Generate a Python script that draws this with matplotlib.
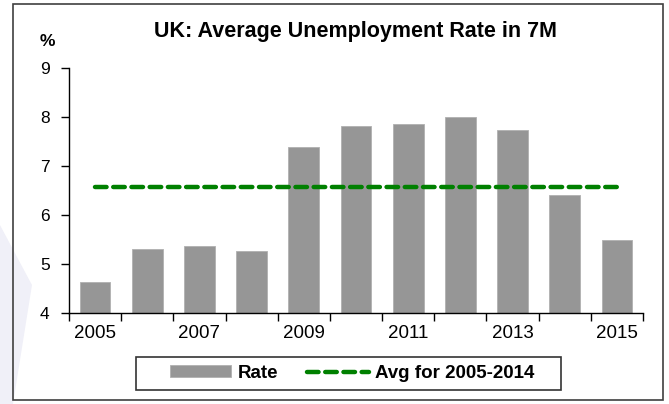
import numpy as np
import matplotlib
matplotlib.use('Agg')
import matplotlib.pyplot as plt
from matplotlib.patches import Rectangle, Polygon

plt.rcParams['font.family'] = ['Liberation Sans', 'DejaVu Sans']

# data
years = ['2005', '2006', '2007', '2008', '2009', '2010', '2011', '2012', '2013', '2014', '2015']
rate = [4.63, 5.30, 5.37, 5.26, 7.39, 7.82, 7.86, 8.00, 7.73, 6.41, 5.48]
avg_value = 6.58
yticks = [4, 5, 6, 7, 8, 9]

W, H = 669, 404
fig = plt.figure(figsize=(W/100, H/100), dpi=100)

# faint decorative shape at the left edge and frame round the chart
fig.patches.append(Polygon([(0, 1 - 225/H), (32/W, 1 - 285/H), (13/W, 0), (0, 0)], closed=True,
                           transform=fig.transFigure, facecolor='#f0f0f8', edgecolor='none', zorder=0))
fig.patches.append(Rectangle((13/W, 4/H), 650/W, 396/H, transform=fig.transFigure,
                             facecolor='none', edgecolor='#404040', lw=1.2, zorder=5))
# legend box
fig.patches.append(Rectangle((136/W, 1 - 390/H), 425/W, 33/H, transform=fig.transFigure,
                             facecolor='white', edgecolor='#333333', lw=1.2, zorder=5))

ax = fig.add_axes([69/W, (H-313)/H, (643-69)/W, (313-68)/H])
ax.patch.set_alpha(0)

x = np.arange(len(years))
bars = ax.bar(x, rate, width=0.59, color='#969696', edgecolor='#b0b0b0', linewidth=0.6, label='Rate', zorder=2)
line, = ax.plot(x, [avg_value]*len(x), color='#008000', lw=3.2, ls=(0, (2.6, 1.5)),
                dash_capstyle='round', label='Avg for 2005-2014', zorder=3)

ax.set_ylim(4, 9)
ax.set_xlim(-0.5, len(years) - 0.5)
ax.set_yticks(yticks)
ax.set_yticklabels([str(t) for t in yticks], fontsize=12.5)
ax.set_xticks(np.arange(-0.5, len(years)), [''] * (len(years) + 1))
ax.set_xticks(x[::2], [years[i] for i in x[::2]], minor=True, fontsize=13.5)
ax.tick_params(axis='both', which='major', length=6, width=1, direction='out', color='black')
ax.tick_params(axis='x', which='minor', length=0, pad=9)
ax.tick_params(axis='y', pad=8)
for s in ['top', 'right']:
    ax.spines[s].set_visible(False)
for s in ['left', 'bottom']:
    ax.spines[s].set_linewidth(1)

fig.text(355/W, 1 - 32/H, 'UK: Average Unemployment Rate in 7M', ha='center', va='center',
         fontsize=15.5, fontweight='bold')
fig.text(47/W, 1 - 41/H, '%', ha='center', va='center', fontsize=12.5, fontweight='bold')

leg = fig.legend([bars, line], ['Rate', 'Avg for 2005-2014'], loc='center',
                 bbox_to_anchor=(352/W, 1 - 373.5/H), bbox_transform=fig.transFigure,
                 ncol=2, frameon=False, handlelength=3.3, handleheight=0.6,
                 columnspacing=1.5, handletextpad=0.35, borderpad=0.2,
                 prop={'weight': 'bold', 'size': 13.5})
leg.set_zorder(6)

fig.savefig('out.png', dpi=100)
